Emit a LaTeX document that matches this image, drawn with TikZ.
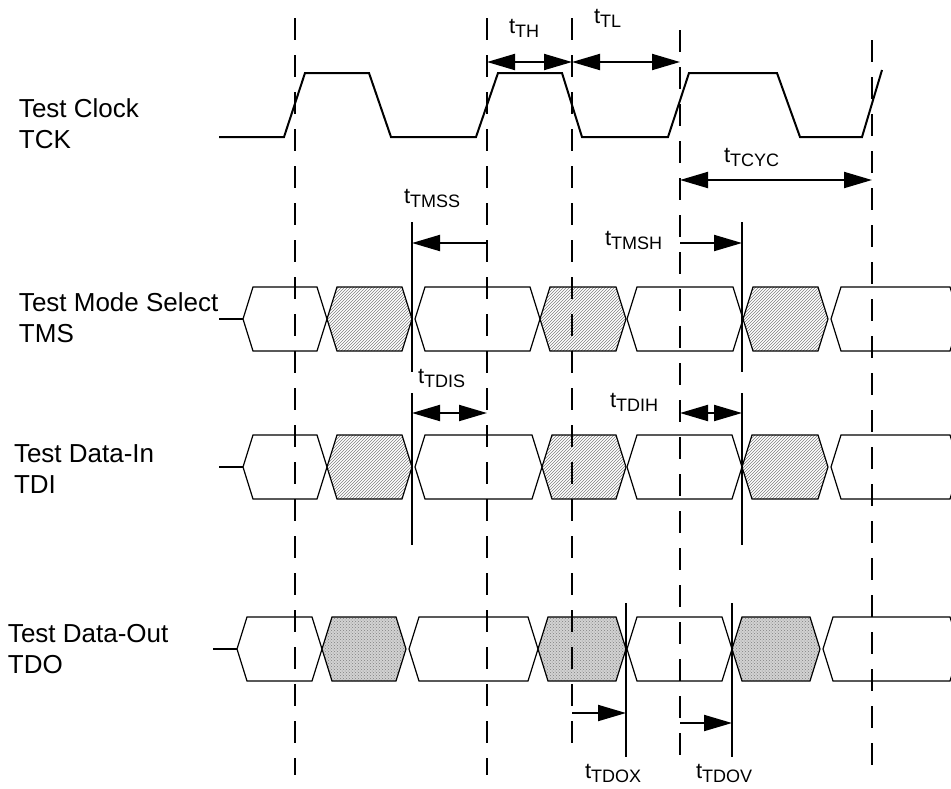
\documentclass[tikz,border=0pt]{standalone}
\usepackage{fontspec}
\setmainfont{Liberation Sans}
\usetikzlibrary{arrows.meta, patterns}

% one bus cell: left point, right point, middle line, style
\newcommand{\bus}[4]{%
  \draw[#4] (#1,#3) -- (#1+10,#3-32) -- (#2-10,#3-32) -- (#2,#3)
    -- (#2-10,#3+32) -- (#1+10,#3+32) -- cycle;}
\newcommand{\tlab}[1]{t\raisebox{-4pt}{\fontsize{18}{18}\selectfont #1}}

\begin{document}
\begin{tikzpicture}[x=1pt, y=-1pt,
                    line width=2pt,
                    edgeline/.style={dash pattern=on 22pt off 15pt},
                    valid/.style={line width=1.2pt, fill=white},
                    hatched/.style={line width=1.2pt, pattern=north east lines, pattern color=black!50},
                    dotbus/.style={line width=1.2pt, preaction={fill=gray!35}, pattern=crosshatch dots, pattern color=gray},
                    both/.style={{Triangle[length=28pt,width=16pt]}-{Triangle[length=28pt,width=16pt]}},
                    one/.style={-{Triangle[length=28pt,width=16pt]}},
                    lab/.style={anchor=base west, align=left, inner sep=0pt, font=\fontsize{26}{31}\selectfont},
                    tlabel/.style={anchor=base west, inner sep=0pt, font=\fontsize{22}{24}\selectfont}
                    ]
    \useasboundingbox (0,0) rectangle (951,788);

    \def\Ex{295}  \def\Fx{487}  \def\Gx{572}  \def\Hx{680}  \def\Kx{872}
    \def\Sx{412}  \def\Tx{742}  \def\Xx{626}  \def\Vx{732}

    % clock edges
    \coordinate (E1) at (\Ex,18);  \coordinate (E2) at (\Ex,775);
    \coordinate (F1) at (\Fx,18);  \coordinate (F2) at (\Fx,775);
    \coordinate (G1) at (\Gx,18);  \coordinate (G2) at (\Gx,746);
    \coordinate (H1) at (\Hx,30);  \coordinate (H2) at (\Hx,757);
    \coordinate (K1) at (\Kx,40);  \coordinate (K2) at (\Kx,778);

    % TCK
    \draw (219,137)--(284,137)--(305,73)--(369,73)--(391,137)--(476,137)--(498,73)
          --(562,73)--(582,137)--(668,137)--(689,73)--(777,73)--(800,137)--(862,137)--(882,70);

    % TMS
    \draw (219,319)--(243,319);
    \bus{243}{327}{319}{valid}
    \bus{327}{412}{319}{hatched}
    \bus{415}{540}{319}{valid}
    \bus{540}{626}{319}{hatched}
    \bus{627}{743}{319}{valid}
    \bus{743}{828}{319}{hatched}
    \bus{831}{960}{319}{valid}

    % TDI
    \draw (219,467)--(243,467);
    \bus{243}{327}{467}{valid}
    \bus{327}{412}{467}{hatched}
    \bus{415}{542}{467}{valid}
    \bus{542}{626}{467}{hatched}
    \bus{627}{742}{467}{valid}
    \bus{742}{828}{467}{hatched}
    \bus{831}{960}{467}{valid}

    % TDO
    \draw (213,649)--(237,649);
    \bus{237}{322}{649}{valid}
    \bus{322}{406}{649}{dotbus}
    \bus{409}{538}{649}{valid}
    \bus{538}{626}{649}{dotbus}
    \bus{627}{732}{649}{valid}
    \bus{732}{820}{649}{dotbus}
    \bus{823}{960}{649}{valid}

    % dashes over the cells
    \draw[edgeline] (E1)--(E2);
    \draw[edgeline] (F1)--(F2);
    \draw[edgeline] (G1)--(G2);
    \draw[edgeline] (H1)--(H2);
    \draw[edgeline] (K1)--(K2);

    % setup / hold markers
    \coordinate (S1) at (\Sx,222);  \coordinate (S2) at (\Sx,372);
    \coordinate (S3) at (\Sx,393);  \coordinate (S4) at (\Sx,545);
    \coordinate (T1) at (\Tx,222);  \coordinate (T2) at (\Tx,372);
    \coordinate (T3) at (\Tx,393);  \coordinate (T4) at (\Tx,545);
    \coordinate (X1) at (\Xx,603);  \coordinate (X2) at (\Xx,757);
    \coordinate (V1) at (\Vx,603);  \coordinate (V2) at (\Vx,757);

    \draw (S1)--(S2);
    \draw (S3)--(S4);
    \draw (T1)--(T2);
    \draw (T3)--(T4);
    \draw (X1)--(X2);
    \draw (V1)--(V2);

    % timing arrows
    \draw[both] (\Fx,62) -- (\Gx,62);
    \draw[both] (\Gx,62) -- (\Hx,62);
    \draw[both] (\Hx,180) -- (\Kx,180);
    \draw[one]  (\Fx,243) -- (\Sx,243);
    \draw[one]  (\Hx,243) -- (\Tx,243);
    \draw[both] (\Sx,413) -- (\Fx,413);
    \draw[both] (\Hx,413) -- (\Tx,413);
    \draw[one]  (\Gx,713) -- (\Xx,713);
    \draw[one]  (\Hx,723) -- (\Vx,723);

    % signal names
    \node[lab] (tck) at (18,148) {Test Clock\\TCK};
    \node[lab] (tms) at (18,342) {Test Mode Select\\TMS};
    \node[lab] (tdi) at (13,493) {Test Data-In\\TDI};
    \node[lab] (tdo) at (7,673)  {Test Data-Out\\TDO};

    % timing names
    \node[tlabel] (th)   at (508,33)  {\tlab{TH}};
    \node[tlabel] (tl)   at (593,23)  {\tlab{TL}};
    \node[tlabel] (tcyc) at (723,162) {\tlab{TCYC}};
    \node[tlabel] (tmss) at (403,203) {\tlab{TMSS}};
    \node[tlabel] (tmsh) at (604,245) {\tlab{TMSH}};
    \node[tlabel] (tdis) at (417,383) {\tlab{TDIS}};
    \node[tlabel] (tdih) at (609,407) {\tlab{TDIH}};
    \node[tlabel] (tdox) at (584,778) {\tlab{TDOX}};
    \node[tlabel] (tdov) at (695,778) {\tlab{TDOV}};
\end{tikzpicture}
\end{document}
